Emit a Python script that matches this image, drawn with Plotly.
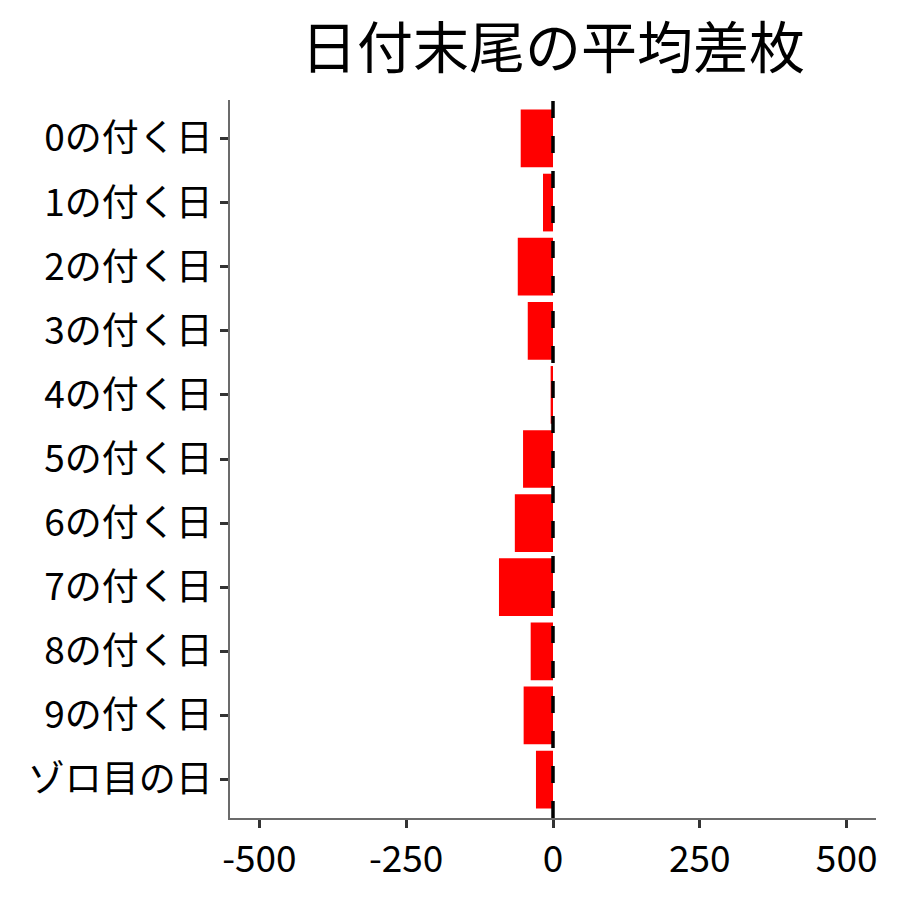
import plotly.graph_objects as go

categories = ["0の付く日", "1の付く日", "2の付く日", "3の付く日", "4の付く日",
              "5の付く日", "6の付く日", "7の付く日", "8の付く日", "9の付く日", "ゾロ目の日"]
values = [-55, -17, -60, -43, -4, -51, -65, -92, -38, -50, -29]
x_ticks = [-500, -250, 0, 250, 500]
x_tick_labels = ["-500", "-250", "0", "250", "500"]

FONT = "Noto Sans CJK JP"
OFF = 8  # page body margin

fig = go.Figure()
fig.add_trace(go.Bar(
    y=categories, x=values, orientation="h",
    marker=dict(color="#FF0000", line=dict(width=0)),
    width=0.9, showlegend=False,
))

fig.add_shape(type="line", xref="x", yref="paper", x0=0, x1=0, y0=0, y1=1,
              line=dict(color="black", width=3.5, dash="17px,18px"), layer="above")

fig.update_layout(
    width=900, height=900,
    paper_bgcolor="white", plot_bgcolor="white",
    margin=dict(l=230 - OFF, r=24 + OFF, t=100 - OFF, b=82 + OFF),
    font=dict(family=FONT, color="black"),
    title=dict(text="日付末尾の平均差枚", x=(553 - OFF) / 900, xref="container",
               xanchor="center", y=1 - (48 - OFF) / 900, yanchor="middle",
               font=dict(size=56, family=FONT, color="black")),
)
fig.update_xaxes(
    range=[-550, 550], tickvals=x_ticks, ticktext=x_tick_labels,
    showgrid=False, zeroline=False,
    showline=True, linecolor="#6b6b6b", linewidth=1.5,
    ticks="outside", ticklen=8, tickwidth=2.5, tickcolor="#333333",
    tickfont=dict(size=37, family=FONT, color="black"),
)
fig.update_yaxes(
    categoryorder="array", categoryarray=categories, autorange=False,
    range=[len(categories) - 0.4, -0.6],
    showgrid=False, zeroline=False,
    showline=True, linecolor="#6b6b6b", linewidth=1.5,
    ticks="outside", ticklen=8, tickwidth=2.5, tickcolor="#333333",
    tickfont=dict(size=37, family=FONT, color="black"),
)

fig.write_html("out.html")
